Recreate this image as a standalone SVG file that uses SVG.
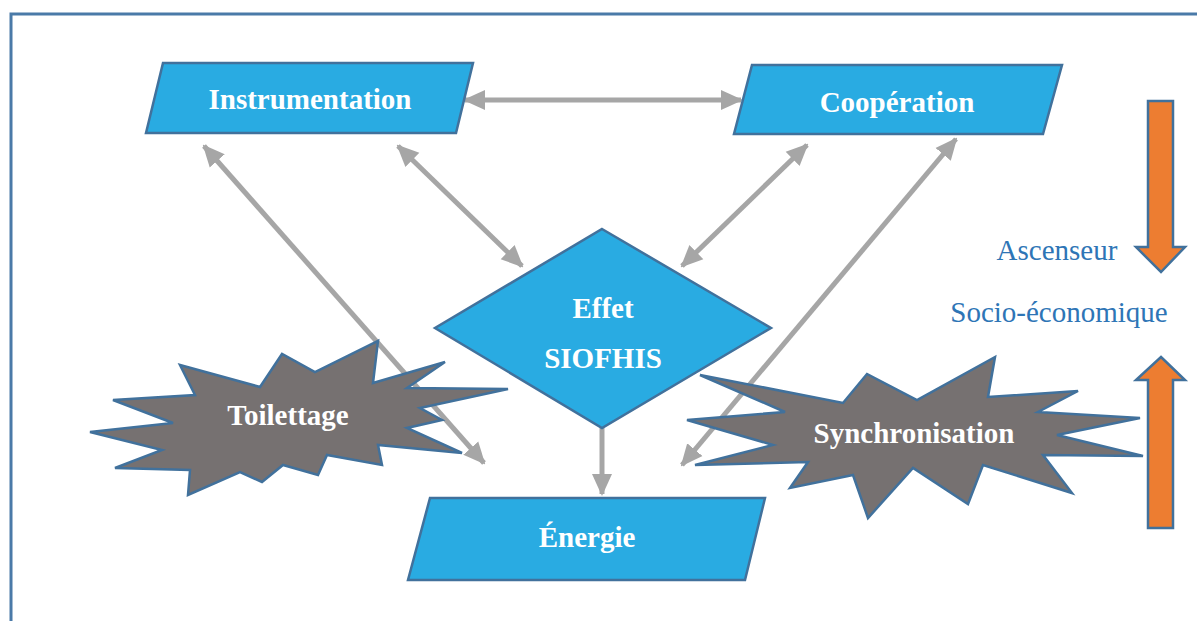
<svg xmlns="http://www.w3.org/2000/svg" width="1197" height="621" viewBox="0 0 1197 621">
<defs>
<style>
.box{fill:#29abe2;stroke:#41719c;stroke-width:2.5}
.burst{fill:#767171;stroke:#41719c;stroke-width:2.5;stroke-linejoin:miter}
.lbl{font-family:"Liberation Serif","Times New Roman",serif;font-weight:bold;font-size:29px;fill:#ffffff;text-anchor:middle}
.side{font-family:"Liberation Serif","Times New Roman",serif;font-size:29px;fill:#2e75b6;text-anchor:middle}
.conn{stroke:#a6a6a6;stroke-width:5;fill:none}
.orange{fill:#ed7d31;stroke:#41719c;stroke-width:2.5}
</style>
<marker id="ah" markerUnits="userSpaceOnUse" markerWidth="22" markerHeight="22" viewBox="0 0 22 22" refX="20" refY="11" orient="auto-start-reverse">
<path d="M0,1 L22,11 L0,21 Z" fill="#a6a6a6"/>
</marker>
</defs>
<rect x="0" y="0" width="1197" height="621" fill="#ffffff"/>
<rect x="11" y="14" width="1250" height="700" fill="none" stroke="#4a7aa8" stroke-width="3"/>

<g id="connectors">
<line class="conn" x1="465" y1="100" x2="741" y2="100" marker-start="url(#ah)" marker-end="url(#ah)"/>
<line class="conn" x1="398" y1="146" x2="522" y2="266" marker-start="url(#ah)" marker-end="url(#ah)"/>
<line class="conn" x1="807" y1="145" x2="682" y2="266" marker-start="url(#ah)" marker-end="url(#ah)"/>
<line class="conn" x1="204" y1="146" x2="484" y2="463" marker-start="url(#ah)" marker-end="url(#ah)"/>
<line class="conn" x1="956" y1="139" x2="682" y2="465" marker-start="url(#ah)" marker-end="url(#ah)"/>
<line class="conn" x1="602" y1="428" x2="602" y2="494" marker-end="url(#ah)"/>
</g>

<g id="instrumentation">
<polygon class="box" points="163,63 473,63 456,133 146,133"/>
<text class="lbl" x="310" y="109">Instrumentation</text>
</g>
<g id="cooperation">
<polygon class="box" points="752,65 1062,65 1043,134 734,134"/>
<text class="lbl" x="897" y="112">Coopération</text>
</g>
<g id="effet">
<polygon class="box" points="602,229 771,328 602,428 435,328"/>
<text class="lbl" x="603" y="318">Effet</text>
<text class="lbl" x="603" y="368">SIOFHIS</text>
</g>
<g id="energie">
<polygon class="box" points="430,498 765,498 745,580 408,580"/>
<text class="lbl" x="587" y="547">Énergie</text>
</g>
<g id="toilettage">
<polygon class="burst" points="180,365 260,387 282,354 315,372 378,341 373,383 445,362 407,388 508,389 420,408 442,420 407,428 462,453 378,445 382,465 327,455 318,475 283,465 262,482 240,472 188,495 190,470 115,468 162,450 90,432 173,423 113,400 195,395"/>
<text class="lbl" x="288" y="425">Toilettage</text>
</g>
<g id="synchronisation">
<polygon class="burst" points="700,375 843,403 867,374 917,400 995,357 988,397 1078,391 1038,412 1140,418 1057,435 1143,456 1043,455 1072,493 983,465 968,504 913,468 868,518 853,475 790,488 808,462 695,465 773,445 687,420 785,412"/>
<text class="lbl" x="914" y="443">Synchronisation</text>
</g>
<g id="ascenseur">
<polygon class="orange" points="1148,101 1173,101 1173,247 1185,247 1161,272 1136,247 1148,247"/>
<polygon class="orange" points="1161,357 1185,380 1173,380 1173,528 1148,528 1148,380 1136,380"/>
<text class="side" x="1057" y="260">Ascenseur</text>
<text class="side" x="1059" y="322">Socio-économique</text>
</g>
</svg>
